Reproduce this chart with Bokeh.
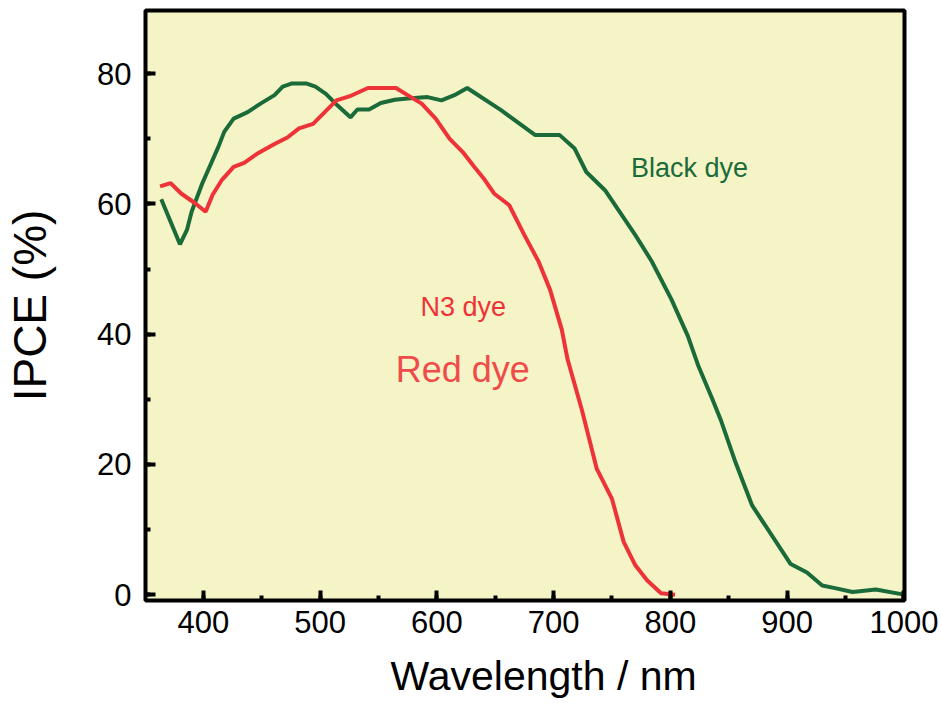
from bokeh.plotting import figure
from bokeh.models import SingleIntervalTicker, Range1d, Label, Title
from bokeh.embed import file_html
from bokeh.resources import INLINE

# Black dye IPCE (%)
black_wl = [364, 380, 386, 390, 399, 413, 418, 426, 438, 449, 461, 468, 476, 488,
            496, 505, 515, 526, 532, 542, 552, 564, 575, 592, 604, 615, 626, 655,
            684, 705, 718, 728, 744, 770, 784, 801, 815, 824, 836, 843, 856, 870,
            903, 917, 930, 941, 956, 976, 1000]
black_ipce = [60.7, 53.8, 56.0, 58.8, 63.1, 68.8, 71.1, 73.1, 74.1, 75.4, 76.7, 78.0,
              78.5, 78.5, 78.0, 76.9, 75.1, 73.3, 74.5, 74.5, 75.5, 76.0, 76.2, 76.4,
              75.9, 76.7, 77.8, 74.4, 70.6, 70.6, 68.5, 64.9, 62.1, 55.2, 51.2, 45.3,
              39.7, 35.1, 30.0, 26.9, 20.2, 13.7, 4.7, 3.4, 1.4, 1.0, 0.4, 0.8, 0.0]

# N3 (red) dye IPCE (%)
red_wl = [363, 372, 381, 393, 402, 408, 416, 426, 435, 446, 461, 472, 482, 494, 504,
          514, 525, 541, 565, 575, 587, 599, 611, 622, 632, 641, 649, 662, 675, 687,
          697, 707, 712, 724, 737, 750, 760, 770, 780, 792, 804]
red_ipce = [62.7, 63.2, 61.6, 60.1, 58.8, 61.4, 63.7, 65.7, 66.3, 67.7, 69.2, 70.2,
            71.6, 72.3, 74.1, 75.9, 76.5, 77.8, 77.8, 76.7, 75.4, 73.1, 70.0, 68.0,
            65.7, 63.7, 61.6, 59.8, 55.2, 51.2, 46.8, 40.7, 36.1, 28.5, 19.3, 14.7,
            8.1, 4.5, 2.2, 0.2, 0.0]

GREEN = "#1B6B3A"
RED = "#EE3338"
FONT = "Liberation Sans"

p = figure(width=940, height=714, output_backend="svg", toolbar_location=None,
           x_range=Range1d(350.5, 1000.5), y_range=Range1d(-0.9, 89.7),
           min_border_left=145, min_border_right=36, min_border_top=10,
           min_border_bottom=112)

p.background_fill_color = "#F4F4C6"
p.border_fill_color = "white"
p.outline_line_color = "black"
p.outline_line_width = 4
p.grid.visible = False

p.line(black_wl, black_ipce, line_color=GREEN, line_width=4)
p.line(red_wl, red_ipce, line_color=RED, line_width=4)

p.xaxis.ticker = SingleIntervalTicker(interval=100, num_minor_ticks=2)
p.yaxis.ticker = SingleIntervalTicker(interval=20, num_minor_ticks=2)

for ax in (p.xaxis, p.yaxis):
    ax.axis_line_color = None
    ax.major_tick_in = 10
    ax.major_tick_out = 0
    ax.minor_tick_in = 5
    ax.minor_tick_out = 0
    ax.major_tick_line_width = 4
    ax.minor_tick_line_width = 4
    ax.major_tick_line_color = "black"
    ax.minor_tick_line_color = "black"
    ax.major_label_text_font = FONT
    ax.major_label_text_font_size = "31px"
    ax.major_label_text_color = "black"
    ax.axis_label_text_font = FONT
    ax.axis_label_text_font_style = "normal"
    ax.axis_label_text_color = "black"

p.xaxis.major_label_standoff = 10

# x-axis title, shifted right like the original
p.add_layout(Title(text="Wavelength / nm", align="left", offset=245,
                   vertical_align="bottom", standoff=31,
                   text_font=FONT, text_font_size="41px", text_font_style="normal",
                   text_color="black"), "below")

p.yaxis.axis_label = "IPCE (%)"
p.yaxis.axis_label_text_font_size = "46px"
p.yaxis.major_label_standoff = 14
p.yaxis.axis_label_standoff = 38

p.add_layout(Label(x=766.3, y=65.55, text="Black dye", text_color=GREEN,
                   text_font=FONT, text_font_size="27px", text_baseline="alphabetic"))
p.add_layout(Label(x=586.0, y=44.2, text="N3 dye", text_color=RED,
                   text_font=FONT, text_font_size="27px", text_baseline="alphabetic"))
p.add_layout(Label(x=564.8, y=34.6, text="Red dye", text_color="#F04B4B",
                   text_font=FONT, text_font_size="36px", text_baseline="alphabetic"))

open("out.html", "w").write(file_html(p, INLINE))
